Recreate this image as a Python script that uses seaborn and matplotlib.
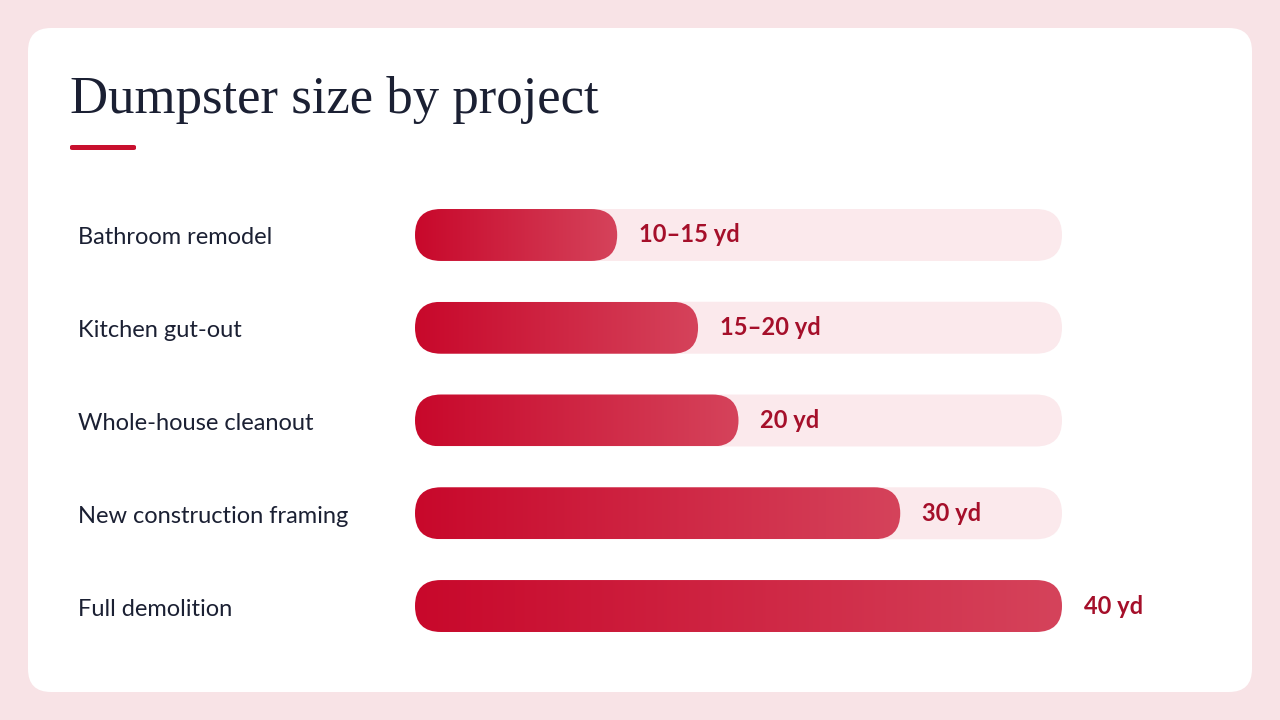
import numpy as np
import pandas as pd
import matplotlib
matplotlib.use("Agg")
import matplotlib.pyplot as plt
from matplotlib.patches import FancyBboxPatch
from matplotlib.colors import LinearSegmentedColormap
import seaborn as sns

# data
projects = ["Bathroom remodel", "Kitchen gut-out", "Whole-house cleanout",
            "New construction framing", "Full demolition"]
sizes = [12.5, 17.5, 20, 30, 40]
size_labels = ["10\u201315 yd", "15\u201320 yd", "20 yd", "30 yd", "40 yd"]
max_size = 40

df = pd.DataFrame({"project": projects, "size": sizes})

sns.set_theme(style="white")
plt.rcParams["font.family"] = ["Lato", "DejaVu Sans"]

W, H = 1280, 720
fig = plt.figure(figsize=(12.8, 7.2), dpi=100)
fig.patch.set_facecolor("#f8e3e6")

# white card
card = FancyBboxPatch((28 / W, 1 - 692 / H), (1252 - 28) / W, (692 - 28) / H,
                      boxstyle="round,pad=0,rounding_size=0.018",
                      mutation_aspect=W / H, transform=fig.transFigure,
                      facecolor="white", edgecolor="none", zorder=-5)
fig.patches.append(card)

fig.text(70 / W, 1 - 100 / H, "Dumpster size by project", family="Liberation Serif",
         fontsize=38, color="#1b2033", va="center", ha="left")
fig.patches.append(FancyBboxPatch((70 / W, 1 - 150 / H), 66 / W, 5 / H,
                                  boxstyle="round,pad=0,rounding_size=0.002",
                                  transform=fig.transFigure, facecolor="#c8102e",
                                  edgecolor="none", zorder=-4))

# bar axes
x0, x1 = 415, 1062
top, bot = 188.6, 652.4
ax = fig.add_axes([x0 / W, 1 - bot / H, (x1 - x0) / W, (bot - top) / H], zorder=3)
sns.barplot(data=df, x="size", y="project", orient="h", ax=ax, width=0.56,
            color="#c8102e")
ax.set_xlim(0, max_size)
ax.set_ylim(len(projects) - 0.5, -0.5)
ax.axis("off")
ax.patch.set_alpha(0)

px_x = (x1 - x0) / max_size
px_y = (bot - top) / len(projects)
aspect = px_x / px_y
rad = 26 / px_x
cmap = LinearSegmentedColormap.from_list("g", ["#c8082b", "#d5435b"])
grad = np.linspace(0, 1, 256).reshape(1, -1)

for i, p in enumerate(list(ax.patches)):
    y = p.get_y()
    h = p.get_height()
    w = p.get_width()
    p.set_visible(False)
    track = FancyBboxPatch((0, y), max_size, h,
                           boxstyle=f"round,pad=0,rounding_size={rad}",
                           mutation_aspect=aspect, facecolor="#fbe9ec",
                           edgecolor="none", zorder=1)
    ax.add_patch(track)
    bar = FancyBboxPatch((0, y), w, h,
                         boxstyle=f"round,pad=0,rounding_size={rad}",
                         mutation_aspect=aspect, facecolor="none",
                         edgecolor="none", zorder=2)
    ax.add_patch(bar)
    im = ax.imshow(grad, cmap=cmap, aspect="auto", extent=(0, w, y + h, y),
                   zorder=2, interpolation="bicubic")
    im.set_clip_path(bar)
    ax.text(w + 22 / px_x, i, size_labels[i], va="center", ha="left",
            fontsize=17, fontweight="bold", color="#a50f2a", zorder=3,
            clip_on=False)
    fig.text(78 / W, 1 - (238 + i * 92.75) / H, projects[i], va="center",
             ha="left", fontsize=17, color="#1b2033")

ax.set_xlim(0, max_size)
ax.set_ylim(len(projects) - 0.5, -0.5)

fig.savefig("out.png", dpi=100, facecolor=fig.get_facecolor())
